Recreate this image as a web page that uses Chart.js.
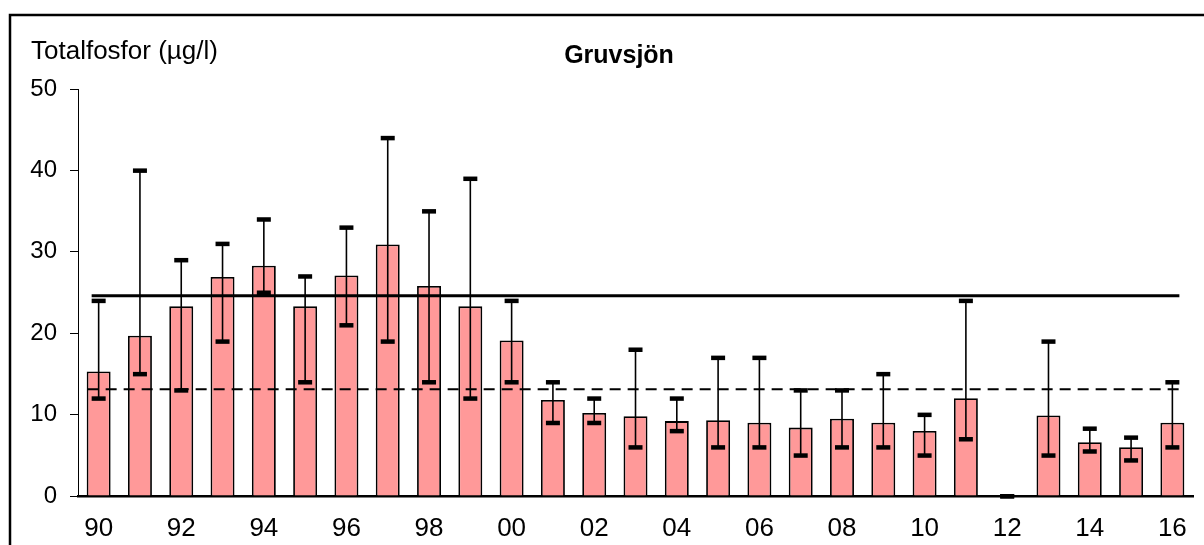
<!DOCTYPE html>
<html>
<head>
<meta charset="utf-8">
<title>Gruvsjön</title>
<script src="https://cdn.jsdelivr.net/npm/chart.js"></script>
<style>
  body { margin: 0; background: #fff; }
  canvas { display: block; }
</style>
</head>
<body>
<canvas id="Graphc" width="1204" height="545"></canvas>
<script>
// år (två siffror), medelvärde, min och max totalfosfor
var years = ['90','91','92','93','94','95','96','97','98','99','00','01','02','03',
             '04','05','06','07','08','09','10','11','12','13','14','15','16'];
var medel = [15.3, 19.7, 23.3, 26.9, 28.3, 23.3, 27.1, 30.9, 25.8, 23.3, 19.1, 11.8, 10.2, 9.8,
             9.2, 9.3, 9.0, 8.4, 9.5, 9.0, 8.0, 12.0, 0, 9.9, 6.6, 6.0, 9.0];
var minv  = [12, 15, 13, 19, 25, 14, 21, 19, 14, 12, 14, 9, 9, 6,
             8, 6, 6, 5, 6, 6, 5, 7, 0, 5, 5.5, 4.4, 6];
var maxv  = [24, 40, 29, 31, 34, 27, 33, 44, 35, 39, 24, 14, 12, 18,
             12, 17, 17, 13, 13, 15, 10, 24, 0, 19, 8.3, 7.2, 14];
var yTicks = [0, 10, 20, 30, 40, 50];
// jämförvärden: heldragen och streckad linje
var nivaHel = 24.6;
var nivaStreck = 13.1;

var fontName = '"Liberation Sans", Arial, sans-serif';

var ramPlugin = {
    id: 'ram',
    beforeDraw: function(chart) {
        var ctx = chart.ctx;
        ctx.save();
        ctx.strokeStyle = '#000';
        ctx.lineWidth = 2.5;
        ctx.beginPath();
        ctx.moveTo(10, 545);
        ctx.lineTo(10, 15);
        ctx.lineTo(1204, 15);
        ctx.stroke();
        ctx.restore();
    },
    afterDraw: function(chart) {
        var ctx = chart.ctx;
        ctx.save();
        ctx.fillStyle = '#000';
        ctx.textBaseline = 'alphabetic';
        ctx.font = 'bold 25px ' + fontName;
        ctx.textAlign = 'center';
        ctx.fillText('Gruvsjön', 619, 63);
        ctx.font = '26px ' + fontName;
        ctx.textAlign = 'left';
        ctx.fillText('Totalfosfor (µg/l)', 31, 59);
        ctx.restore();
    }
};

var linjerPlugin = {
    id: 'linjer',
    afterDatasetsDraw: function(chart) {
        var ctx = chart.ctx;
        var x = chart.scales.x;
        var y = chart.scales.y;
        var x0 = x.getPixelForValue(0);
        var x1 = x.getPixelForValue(years.length - 1);
        ctx.save();
        ctx.strokeStyle = '#000';

        // heldragen linje
        ctx.lineWidth = 3;
        ctx.beginPath();
        ctx.moveTo(x0 - 7, y.getPixelForValue(nivaHel));
        ctx.lineTo(x1 + 7, y.getPixelForValue(nivaHel));
        ctx.stroke();

        // streckad linje
        ctx.lineWidth = 2;
        ctx.setLineDash([11, 7]);
        ctx.beginPath();
        ctx.moveTo(x0 - 11, y.getPixelForValue(nivaStreck));
        ctx.lineTo(x1 + 9, y.getPixelForValue(nivaStreck));
        ctx.stroke();
        ctx.setLineDash([]);

        // min-max staplar
        ctx.fillStyle = '#000';
        ctx.lineWidth = 1.6;
        for (var i = 0; i < years.length; i++) {
            var px = x.getPixelForValue(i);
            var yLo = y.getPixelForValue(minv[i]);
            var yHi = y.getPixelForValue(maxv[i]);
            ctx.beginPath();
            ctx.moveTo(px, yHi);
            ctx.lineTo(px, yLo);
            ctx.stroke();
            ctx.fillRect(px - 7, yHi - 2, 14, 4.5);
            ctx.fillRect(px - 7, yLo - 2, 14, 4.5);
        }
        ctx.restore();
    }
};

var ctx = document.getElementById('Graphc').getContext('2d');
var chart = new Chart(ctx, {
    type: 'bar',
    data: {
        labels: years,
        datasets: [{
            label: 'Totalfosfor',
            data: medel,
            backgroundColor: 'rgb(255, 153, 153)',
            borderColor: '#000',
            borderWidth: 1.8,
            categoryPercentage: 1,
            barPercentage: 0.58
        }]
    },
    options: {
        responsive: false,
        animation: false,
        layout: { padding: { top: 89, right: 9, left: 0, bottom: 0 } },
        plugins: {
            legend: { display: false },
            tooltip: { enabled: false }
        },
        scales: {
            x: {
                afterFit: function(scale) { scale.height = 49; },
                grid: { display: false, drawTicks: false, drawOnChartArea: false },
                border: { display: true, color: '#000', width: 2.5 },
                ticks: {
                    autoSkip: false,
                    maxRotation: 0,
                    padding: 17,
                    color: '#000',
                    font: { family: fontName, size: 26 },
                    callback: function(val, i) { return i % 2 === 0 ? years[i] : ''; }
                }
            },
            y: {
                min: yTicks[0],
                max: yTicks[yTicks.length - 1],
                afterFit: function(scale) { scale.width = 78; },
                afterBuildTicks: function(scale) {
                    scale.ticks = yTicks.map(function(v) { return { value: v }; });
                },
                grid: {
                    drawOnChartArea: false,
                    drawTicks: true,
                    tickLength: 8,
                    color: '#000',
                    lineWidth: 1
                },
                border: { display: true, color: '#000', width: 1 },
                ticks: {
                    padding: 13,
                    color: '#000',
                    font: { family: fontName, size: 24 }
                }
            }
        }
    },
    plugins: [ramPlugin, linjerPlugin]
});
</script>
</body>
</html>
